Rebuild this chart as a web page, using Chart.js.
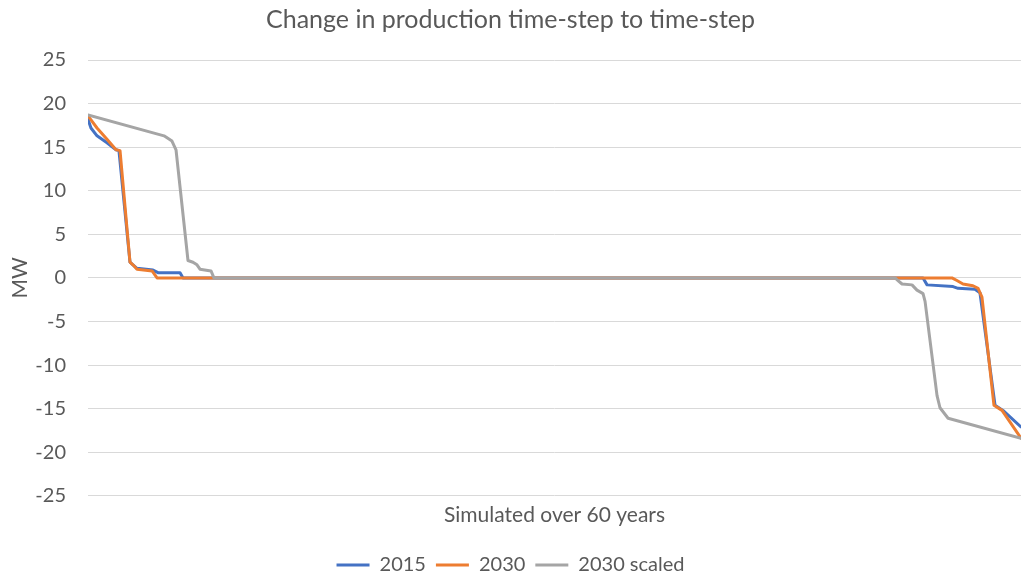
<!DOCTYPE html>
<html>
<head>
<meta charset="utf-8">
<script src="https://cdn.jsdelivr.net/npm/chart.js@4/dist/chart.umd.min.js"></script>
<style>
  html, body { margin: 0; padding: 0; background: #ffffff; }
  #wrap { width: 1021px; height: 579px; position: relative; }
</style>
</head>
<body>
<div id="wrap"><canvas id="chart" width="1021" height="579"></canvas></div>
<script>
// Change in production between consecutive time-steps, sorted (duration-curve style).
// x: position within the 60-year simulation (years), y: MW.
const seriesNames = ['2015', '2030', '2030 scaled'];

const years2015 = [0, 0.19, 0.58, 1.22, 1.80, 1.99, 2.70, 2.89, 3.15, 4.18, 4.50, 5.92, 6.11,
                   53.70, 53.96, 55.63, 55.95, 57.04, 57.36, 58.33, 58.84, 60];
const mw2015    = [18.2, 17.2, 16.3, 15.5, 14.7, 14.6, 1.8, 1.5, 1.1, 0.9, 0.6, 0.6, 0,
                   0, -0.8, -1.0, -1.2, -1.3, -1.7, -14.6, -15.2, -17.1];

const years2030 = [0, 0.58, 1.22, 1.80, 2.06, 2.70, 2.89, 3.15, 4.12, 4.44,
                   55.56, 55.88, 56.27, 56.91, 57.24, 57.49, 58.26, 58.78, 60];
const mw2030    = [18.6, 17.2, 15.9, 14.7, 14.6, 1.8, 1.5, 1.0, 0.8, 0,
                   0, -0.3, -0.7, -0.9, -1.2, -2.2, -14.6, -15.2, -18.4];

const years2030Scaled = [0, 4.89, 5.40, 5.66, 6.43, 6.75, 7.01, 7.20, 7.91, 8.10,
                         51.90, 52.09, 52.35, 52.99, 53.31, 53.70, 53.83, 54.60, 54.79, 55.31, 60];
const mw2030Scaled    = [18.7, 16.3, 15.7, 14.7, 2.0, 1.8, 1.5, 1.0, 0.8, 0,
                         0, -0.3, -0.7, -0.8, -1.4, -1.8, -2.7, -13.5, -14.9, -16.1, -18.4];

const yTickValues = [25, 20, 15, 10, 5, 0, -5, -10, -15, -20, -25];

const toPoints = (xs, ys) => xs.map((x, i) => ({ x: x, y: ys[i] }));

const FONT = 'Lato, "Open Sans", "Liberation Sans", sans-serif';
const TEXT = '#595959';

const lineDataset = (label, xs, ys, color, order) => ({
  label: label,
  data: toPoints(xs, ys),
  borderColor: color,
  backgroundColor: color,
  borderWidth: 3,
  pointRadius: 0,
  pointHoverRadius: 0,
  tension: 0,
  borderJoinStyle: 'round',
  borderCapStyle: 'round',
  order: order
});

new Chart(document.getElementById('chart'), {
  type: 'line',
  data: {
    datasets: [
      lineDataset(seriesNames[0], years2015, mw2015, '#4472C4', 3),
      lineDataset(seriesNames[1], years2030, mw2030, '#ED7D31', 2),
      lineDataset(seriesNames[2], years2030Scaled, mw2030Scaled, '#A5A5A5', 1)
    ]
  },
  options: {
    responsive: false,
    animation: false,
    layout: { padding: { left: 0, right: 0, top: 0, bottom: -6 } },
    plugins: {
      title: {
        display: true,
        text: 'Change in production time-step to time-step',
        color: TEXT,
        font: { family: FONT, size: 25, weight: 'normal' },
        padding: { top: 5, bottom: 25 }
      },
      legend: {
        display: true,
        position: 'bottom',
        labels: {
          color: TEXT,
          font: { family: FONT, size: 20 },
          usePointStyle: true,
          pointStyle: 'line',
          pointStyleWidth: 33,
          padding: 10,
          sort: (a, b) => a.datasetIndex - b.datasetIndex
        }
      },
      tooltip: { enabled: false }
    },
    scales: {
      x: {
        type: 'linear',
        min: 0,
        max: 60,
        grid: { display: false, drawTicks: false },
        border: { display: false },
        ticks: { display: false },
        title: {
          display: true,
          text: 'Simulated over 60 years',
          color: TEXT,
          font: { family: FONT, size: 21 },
          padding: { top: 7, bottom: 17 }
        }
      },
      y: {
        type: 'linear',
        min: -25,
        max: 25,
        afterBuildTicks: (axis) => { axis.ticks = yTickValues.map(v => ({ value: v })); },
        afterFit: (axis) => { axis.width = 88; },
        grid: { color: '#D9D9D9', lineWidth: 1, drawTicks: false },
        border: { display: false },
        ticks: {
          color: TEXT,
          font: { family: FONT, size: 20 },
          padding: 22
        },
        title: {
          display: true,
          text: 'MW',
          color: TEXT,
          font: { family: FONT, size: 21 },
          padding: { top: 8, bottom: 0 }
        }
      }
    }
  }
});
</script>
</body>
</html>
